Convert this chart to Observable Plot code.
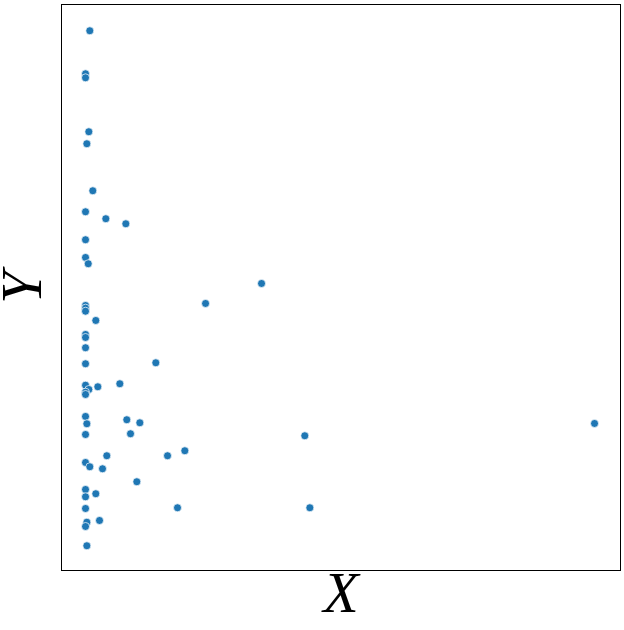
<!DOCTYPE html>
<html>
<head>
<meta charset="utf-8">
<script src="https://cdn.jsdelivr.net/npm/d3@7"></script>
<script src="https://cdn.jsdelivr.net/npm/@observablehq/plot@0.6"></script>
<style>
  html, body { margin: 0; padding: 0; background: #fff; }
</style>
</head>
<body>
<div id="chart"></div>
<script>
const xValues = [0.84, 0, 0, 0.65, 0.26, 1.43, 0, 3.99, 7.92, 0, 0, 0.53, 34.58, 23.58, 0, 0, 0, 2.02, 0, 0, 0, 13.81, 0, 6.74, 0, 2.42, 0.65, 0, 0, 0, 8.11, 10.67, 100, 0.26, 8.84, 0, 43.08, 19.51, 4.18, 16.11, 0, 0.84, 3.34, 10.08, 0, 2.02, 0, 0, 18.07, 44.07, 2.75, 0.26, 0, 0.26];
const yValues = [100, 91.65, 90.87, 80.39, 78.06, 68.93, 64.85, 63.50, 62.52, 59.42, 55.98, 54.76, 50.93, 47.05, 46.66, 46.14, 45.55, 43.75, 41.03, 40.45, 38.45, 35.53, 35.34, 31.46, 31.18, 30.87, 30.35, 29.83, 29.38, 25.11, 24.47, 23.88, 23.75, 23.69, 21.75, 21.61, 21.36, 18.45, 17.48, 17.48, 16.17, 15.34, 14.95, 12.43, 10.93, 10.10, 9.51, 7.24, 7.38, 7.38, 4.91, 4.58, 3.75, 0];
const xLabel = "X";
const yLabel = "Y";

const data = xValues.map((x, i) => ({x, y: yValues[i]}));

const chart = Plot.plot({
  width: 624,
  height: 630,
  marginLeft: 61,
  marginRight: 4,
  marginTop: 4,
  marginBottom: 60,
  x: {domain: [-4.72, 105.1], axis: null},
  y: {domain: [-4.8, 105.1], axis: null},
  style: {background: "#fff"},
  marks: [
    Plot.dot(data, {x: "x", y: "y", r: 4, fill: "#1f77b4", stroke: "#fff", strokeWidth: 0.7}),
    Plot.frame({stroke: "#000", strokeWidth: 1}),
    Plot.text([xLabel], {frameAnchor: "bottom", text: d => d, textAnchor: "middle", lineAnchor: "bottom", dy: 41, fontSize: 58, fontStyle: "italic", fontFamily: "Liberation Serif, DejaVu Serif, serif", fill: "#000"}),
    Plot.text([yLabel], {frameAnchor: "left", text: d => d, rotate: -90, textAnchor: "middle", lineAnchor: "bottom", dx: -21, fontSize: 58, fontStyle: "italic", fontFamily: "Liberation Serif, DejaVu Serif, serif", fill: "#000"})
  ]
});
document.getElementById("chart").append(chart);
</script>
</body>
</html>
